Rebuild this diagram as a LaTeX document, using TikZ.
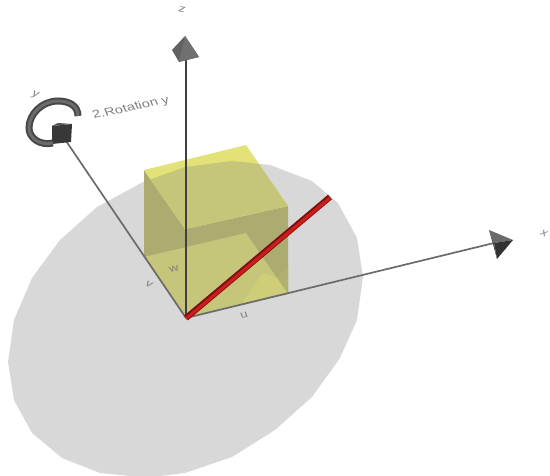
\documentclass[tikz,border=0pt]{standalone}
\usepackage{fontspec}
\setmainfont{Liberation Sans}
\usetikzlibrary{arrows.meta,positioning}
\definecolor{disk}{RGB}{216,216,216}
\definecolor{cubed}{RGB}{172,172,112}
\definecolor{cubem}{RGB}{198,198,122}
\definecolor{cubel}{RGB}{226,226,120}
\definecolor{rodd}{RGB}{125,15,15}
\definecolor{rodl}{RGB}{205,28,28}
\def\diskpath{(143,182)--(185,167)--(232,161)--(270,165)--(312,181)--(338,203)--(357,238)--(363,277)--(357,320)--(340,358)--(312,397)--(275,430)--(232,457)--(185,473)--(160,476)--(130,476)--(100,473)--(62,458)--(32,433)--(14,400)--(8,362)--(14,320)--(32,278)--(60,240)--(97,207)--cycle}
\begin{document}
\begin{tikzpicture}[x=1pt,y=-1pt,
  lbl/.style={text=black!50,font=\fontsize{10}{10}\selectfont,inner sep=0pt,xscale=1.35},
  tip/.style={fill=black!#1,draw=none}]
\useasboundingbox (0,0) rectangle (550,476);
% disk
\fill[disk] \diskpath;
% cube corners
\coordinate (o) at (186,318);\coordinate (a) at (144,257);\coordinate (b) at (246,233);\coordinate (c) at (288,294);
\coordinate (ot) at (185,229);\coordinate (at) at (144,170);\coordinate (bt) at (246,145);\coordinate (ct) at (288,206);
\fill[cubed] (at)--(ot)--(ct)--(c)--(o)--(a)--cycle;
\fill[cubel] (ot)--(at)--(bt)--(ct)--cycle;
\begin{scope}
\clip \diskpath;
\fill[cubem] (ot)--(at)--(bt)--(ct)--cycle;
\end{scope}
\fill[cubem] (o)--(a)--(b)--(c)--cycle;
\fill[cubed!85!cubem] (277,278)--(288,266)--(c)--cycle;
\fill[cubem!70!cubel] (242,303)--(263,273)--(277,278)--(c)--cycle;
% axes
\coordinate (zend) at (186,60);\coordinate (yend) at (62,135);\coordinate (xend) at (494,243);
\draw[line width=2pt,black!75] (o)--(zend);
\draw[line width=1.7pt,black!58] (o)--(yend);
\draw[line width=1.7pt,black!58] (o)--(xend);
% tips
\fill[tip=62] (185,36)--(172,50)--(179,62)--(199,57)--cycle;
\fill[tip=56] (185,36)--(179,62)--(199,57)--cycle;
\fill[tip=78] (52,126)--(72,124)--(71,142)--(52,144)--cycle;
\fill[tip=68] (52,126)--(58,123)--(72,124)--cycle;
\fill[tip=58] (489,230)--(513,240)--(494,243)--cycle;
\fill[tip=80] (494,243)--(513,240)--(497,259)--cycle;
\fill[tip=68] (489,230)--(494,243)--(497,259)--cycle;
% ring
\coordinate (r1) at (78,116);\coordinate (r2) at (53,143);
\draw[line width=7pt,black!72] (r1) .. controls (78,105) and (68,101) .. (58,101) .. controls (42,101) and (29,114) .. (29,128) .. controls (29,138) and (40,146) .. (r2);
\draw[line width=3pt,black!58] (r1) .. controls (78,105) and (68,101) .. (58,101) .. controls (42,101) and (29,114) .. (29,128) .. controls (29,138) and (40,146) .. (r2);
% rod
\coordinate (rod) at (330,197);
\draw[line width=6pt,rodd] (o)--(rod);
\draw[line width=3.2pt,rodl] ([yshift=-.8pt]o)--([yshift=-.8pt]rod);
% labels
\node[lbl,rotate=-15] (zlab) at (182,10) {z};
\node[lbl,rotate=-25] (ylab) at (35,95) {y};
\node[lbl,rotate=-30] (xlab) at (544,233) {x};
\node[lbl,rotate=16,font=\fontsize{11}{11}\selectfont] (rotlab) at (131,108) {2.Rotation y};
\node[lbl,rotate=15] (ulab) at (244,315) {u};
\node[lbl,rotate=-30] (vlab) at (149,284) {v};
\node[lbl,rotate=15] (wlab) at (174,269) {w};
\end{tikzpicture}
\end{document}
